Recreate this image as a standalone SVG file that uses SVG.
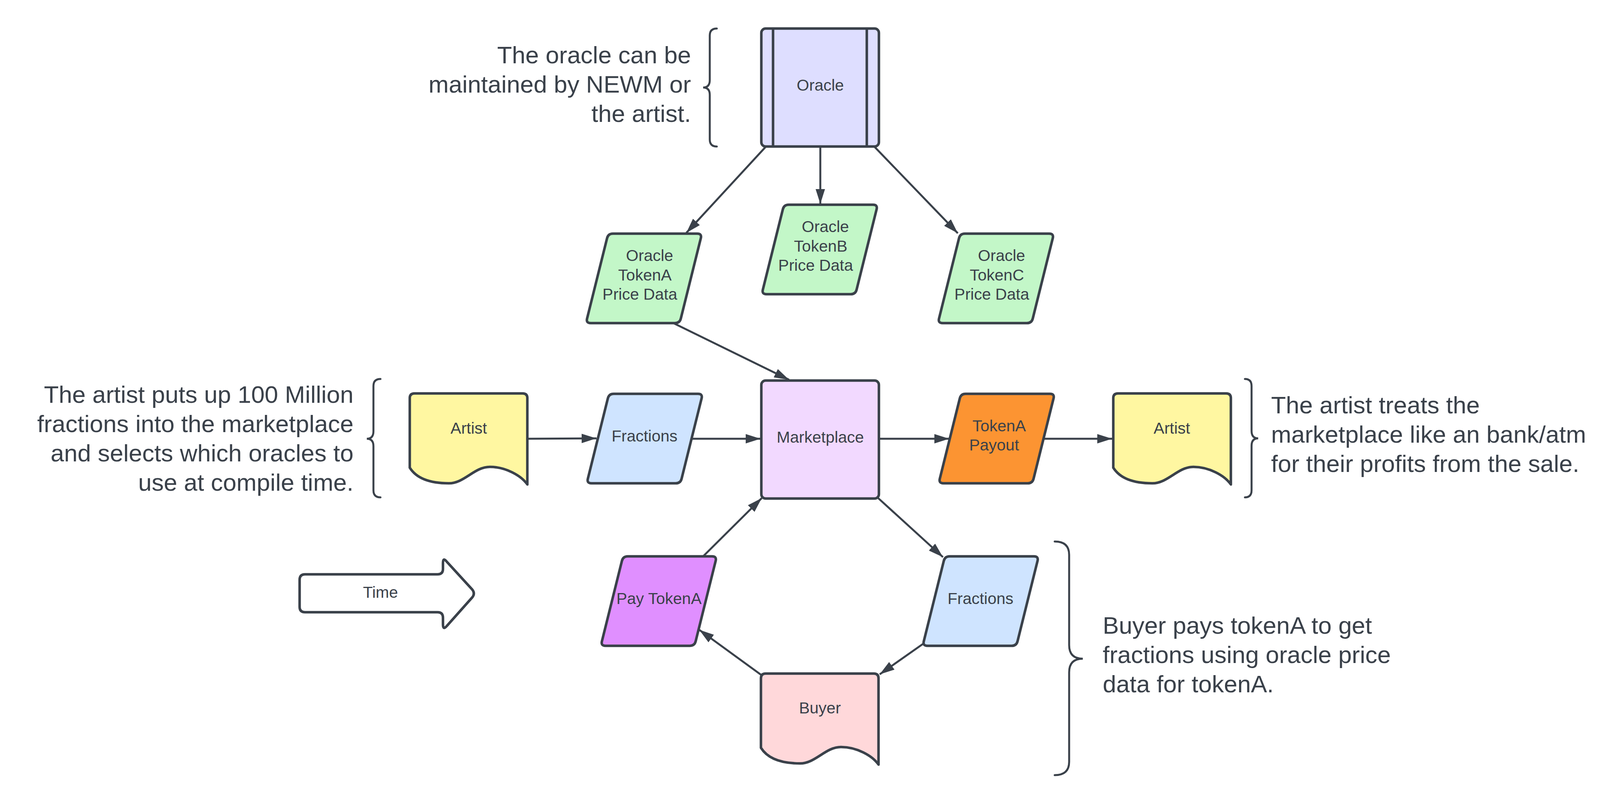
<svg xmlns="http://www.w3.org/2000/svg" xmlns:xlink="http://www.w3.org/1999/xlink" width="4163" height="2063" viewBox="0 0 4163 2063">
<style>
  .node { stroke: #3a414a; stroke-width: 6.5; stroke-linejoin: round; }
  .nt { font-family: "Liberation Sans", Arial, sans-serif; font-size: 41px; fill: #3a414a; text-anchor: middle; }
  .ann { font-family: "Liberation Sans", Arial, sans-serif; font-size: 62px; fill: #3a414a; }
  .brace { fill: none; stroke: #3a414a; stroke-width: 5; stroke-linecap: round; }
  .conn line { stroke: #3a414a; stroke-width: 5; marker-end: url(#ah); }
</style>
<defs>
  <marker id="ah" markerUnits="userSpaceOnUse" markerWidth="38" markerHeight="24" viewBox="0 0 38 24" refX="38" refY="12" orient="auto">
    <path d="M0,0 L38,12 L0,24 Z" fill="#3a414a"/>
  </marker>
  <path id="para" d="M69,0 L285,0 Q297,0 294.1,11.64 L242.9,217.36 Q240,229 228,229 L12,229 Q0,229 2.9,217.36 L54.1,11.64 Q57,0 69,0 Z"/>
  <path id="doc" d="M0,12 Q0,0 12,0 L289,0 Q301,0 301,12 L301,233 C285,210 245,188 205,188 C165,188 140,230 100,230 C60,230 20,222 0,190 Z"/>
</defs>
<rect width="4163" height="2063" fill="#ffffff"/>

<g id="connectors" class="conn">
  <line x1="1960" y1="376" x2="1757" y2="596"/>
  <line x1="2100" y1="377" x2="2100" y2="522"/>
  <line x1="2239" y1="376" x2="2452" y2="597"/>
  <line x1="1726" y1="828" x2="2020" y2="972"/>
  <line x1="1351" y1="1123" x2="1527" y2="1122"/>
  <line x1="1771" y1="1123" x2="1947" y2="1123"/>
  <line x1="2252" y1="1123" x2="2430" y2="1123"/>
  <line x1="2670" y1="1123" x2="2847" y2="1123"/>
  <line x1="2246" y1="1273" x2="2414" y2="1426"/>
  <line x1="2363" y1="1648" x2="2252" y2="1726"/>
  <line x1="1948" y1="1727" x2="1790" y2="1612"/>
  <line x1="1800" y1="1424" x2="1950" y2="1275"/>
</g>

<g id="oracle">
  <rect class="node" x="1949" y="73" width="301" height="302" rx="11" fill="#dedeff"/>
  <line x1="1979" y1="73" x2="1979" y2="375" stroke="#3a414a" stroke-width="6.5"/>
  <line x1="2219" y1="73" x2="2219" y2="375" stroke="#3a414a" stroke-width="6.5"/>
  <text class="nt" x="2100" y="232">Oracle</text>
</g>

<g id="oracle-tokena">
  <use xlink:href="#para" href="#para" class="node" fill="#c3f7c8" transform="translate(1500,598)"/>
  <text class="nt" x="1663" y="668">Oracle</text>
  <text class="nt" x="1651" y="718">TokenA</text>
  <text class="nt" x="1638" y="767">Price Data</text>
</g>

<g id="oracle-tokenb">
  <use xlink:href="#para" href="#para" class="node" fill="#c3f7c8" transform="translate(1950,524)"/>
  <text class="nt" x="2113" y="594">Oracle</text>
  <text class="nt" x="2101" y="644">TokenB</text>
  <text class="nt" x="2088" y="693">Price Data</text>
</g>

<g id="oracle-tokenc">
  <use xlink:href="#para" href="#para" class="node" fill="#c3f7c8" transform="translate(2401,598)"/>
  <text class="nt" x="2564" y="668">Oracle</text>
  <text class="nt" x="2552" y="718">TokenC</text>
  <text class="nt" x="2539" y="767">Price Data</text>
</g>

<g id="artist-left">
  <use xlink:href="#doc" href="#doc" class="node" fill="#fff7a1" transform="translate(1049,1007)"/>
  <text class="nt" x="1200" y="1110">Artist</text>
</g>

<g id="fractions-left">
  <use xlink:href="#para" href="#para" class="node" fill="#cfe4ff" transform="translate(1502,1008)"/>
  <text class="nt" x="1650" y="1130">Fractions</text>
</g>

<g id="marketplace">
  <rect class="node" x="1949" y="974" width="301" height="302" rx="11" fill="#f2d9ff"/>
  <text class="nt" x="2100" y="1133">Marketplace</text>
</g>

<g id="tokena-payout">
  <use xlink:href="#para" href="#para" class="node" fill="#fc9432" transform="translate(2403,1008)"/>
  <text class="nt" x="2558" y="1104">TokenA</text>
  <text class="nt" x="2545" y="1153">Payout</text>
</g>

<g id="artist-right">
  <use xlink:href="#doc" href="#doc" class="node" fill="#fff7a1" transform="translate(2850,1007)"/>
  <text class="nt" x="3000" y="1110">Artist</text>
</g>

<g id="pay-tokena">
  <use xlink:href="#para" href="#para" class="node" fill="#e08fff" transform="translate(1538,1424)"/>
  <text class="nt" x="1687" y="1546">Pay TokenA</text>
</g>

<g id="fractions-right">
  <use xlink:href="#para" href="#para" class="node" fill="#cfe4ff" transform="translate(2362,1424)"/>
  <text class="nt" x="2510" y="1546">Fractions</text>
</g>

<g id="buyer">
  <use xlink:href="#doc" href="#doc" class="node" fill="#ffd8da" transform="translate(1948,1724)"/>
  <text class="nt" x="2099" y="1826">Buyer</text>
</g>

<g id="time">
  <path class="node" fill="#ffffff" stroke-width="6" d="M781,1470 L1120,1470 Q1134,1470 1134,1456 L1134,1441 Q1134,1425 1144,1438 L1209,1509 Q1217,1519 1209,1529 L1144,1602 Q1134,1614 1134,1598 L1134,1581 Q1134,1567 1120,1567 L781,1567 Q767,1567 767,1553 L767,1484 Q767,1470 781,1470 Z"/>
  <text class="nt" x="974" y="1530">Time</text>
</g>

<g id="note-oracle">
  <path class="brace" d="M1835,73 Q1817,73 1817,91 L1817,205 Q1817,224 1800,224 Q1817,224 1817,243 L1817,357 Q1817,375 1835,375"/>
  <text class="ann" text-anchor="end" x="1769" y="162">The oracle can be</text>
  <text class="ann" text-anchor="end" x="1769" y="237">maintained by NEWM or</text>
  <text class="ann" text-anchor="end" x="1769" y="312">the artist.</text>
</g>

<g id="note-artist">
  <path class="brace" d="M974,970 Q956,970 956,988 L956,1104 Q956,1123 939,1123 Q956,1123 956,1142 L956,1255 Q956,1273 974,1273"/>
  <text class="ann" text-anchor="end" x="905" y="1031">The artist puts up 100 Million</text>
  <text class="ann" text-anchor="end" x="905" y="1106">fractions into the marketplace</text>
  <text class="ann" text-anchor="end" x="905" y="1181">and selects which oracles to</text>
  <text class="ann" text-anchor="end" x="905" y="1256">use at compile time.</text>
</g>

<g id="note-payout">
  <path class="brace" d="M3187,970 Q3204,970 3204,988 L3204,1103 Q3204,1122 3221,1122 Q3204,1122 3204,1141 L3204,1255 Q3204,1273 3187,1273"/>
  <text class="ann" x="3254" y="1058">The artist treats the</text>
  <text class="ann" x="3254" y="1133">marketplace like an bank/atm</text>
  <text class="ann" x="3254" y="1208">for their profits from the sale.</text>
</g>

<g id="note-buyer">
  <path class="brace" d="M2700,1386 Q2737,1386 2737,1420 L2737,1651 Q2737,1686 2772,1686 Q2737,1686 2737,1721 L2737,1950 Q2737,1984 2700,1984"/>
  <text class="ann" x="2823" y="1622">Buyer pays tokenA to get</text>
  <text class="ann" x="2823" y="1697">fractions using oracle price</text>
  <text class="ann" x="2823" y="1772">data for tokenA.</text>
</g>
</svg>
